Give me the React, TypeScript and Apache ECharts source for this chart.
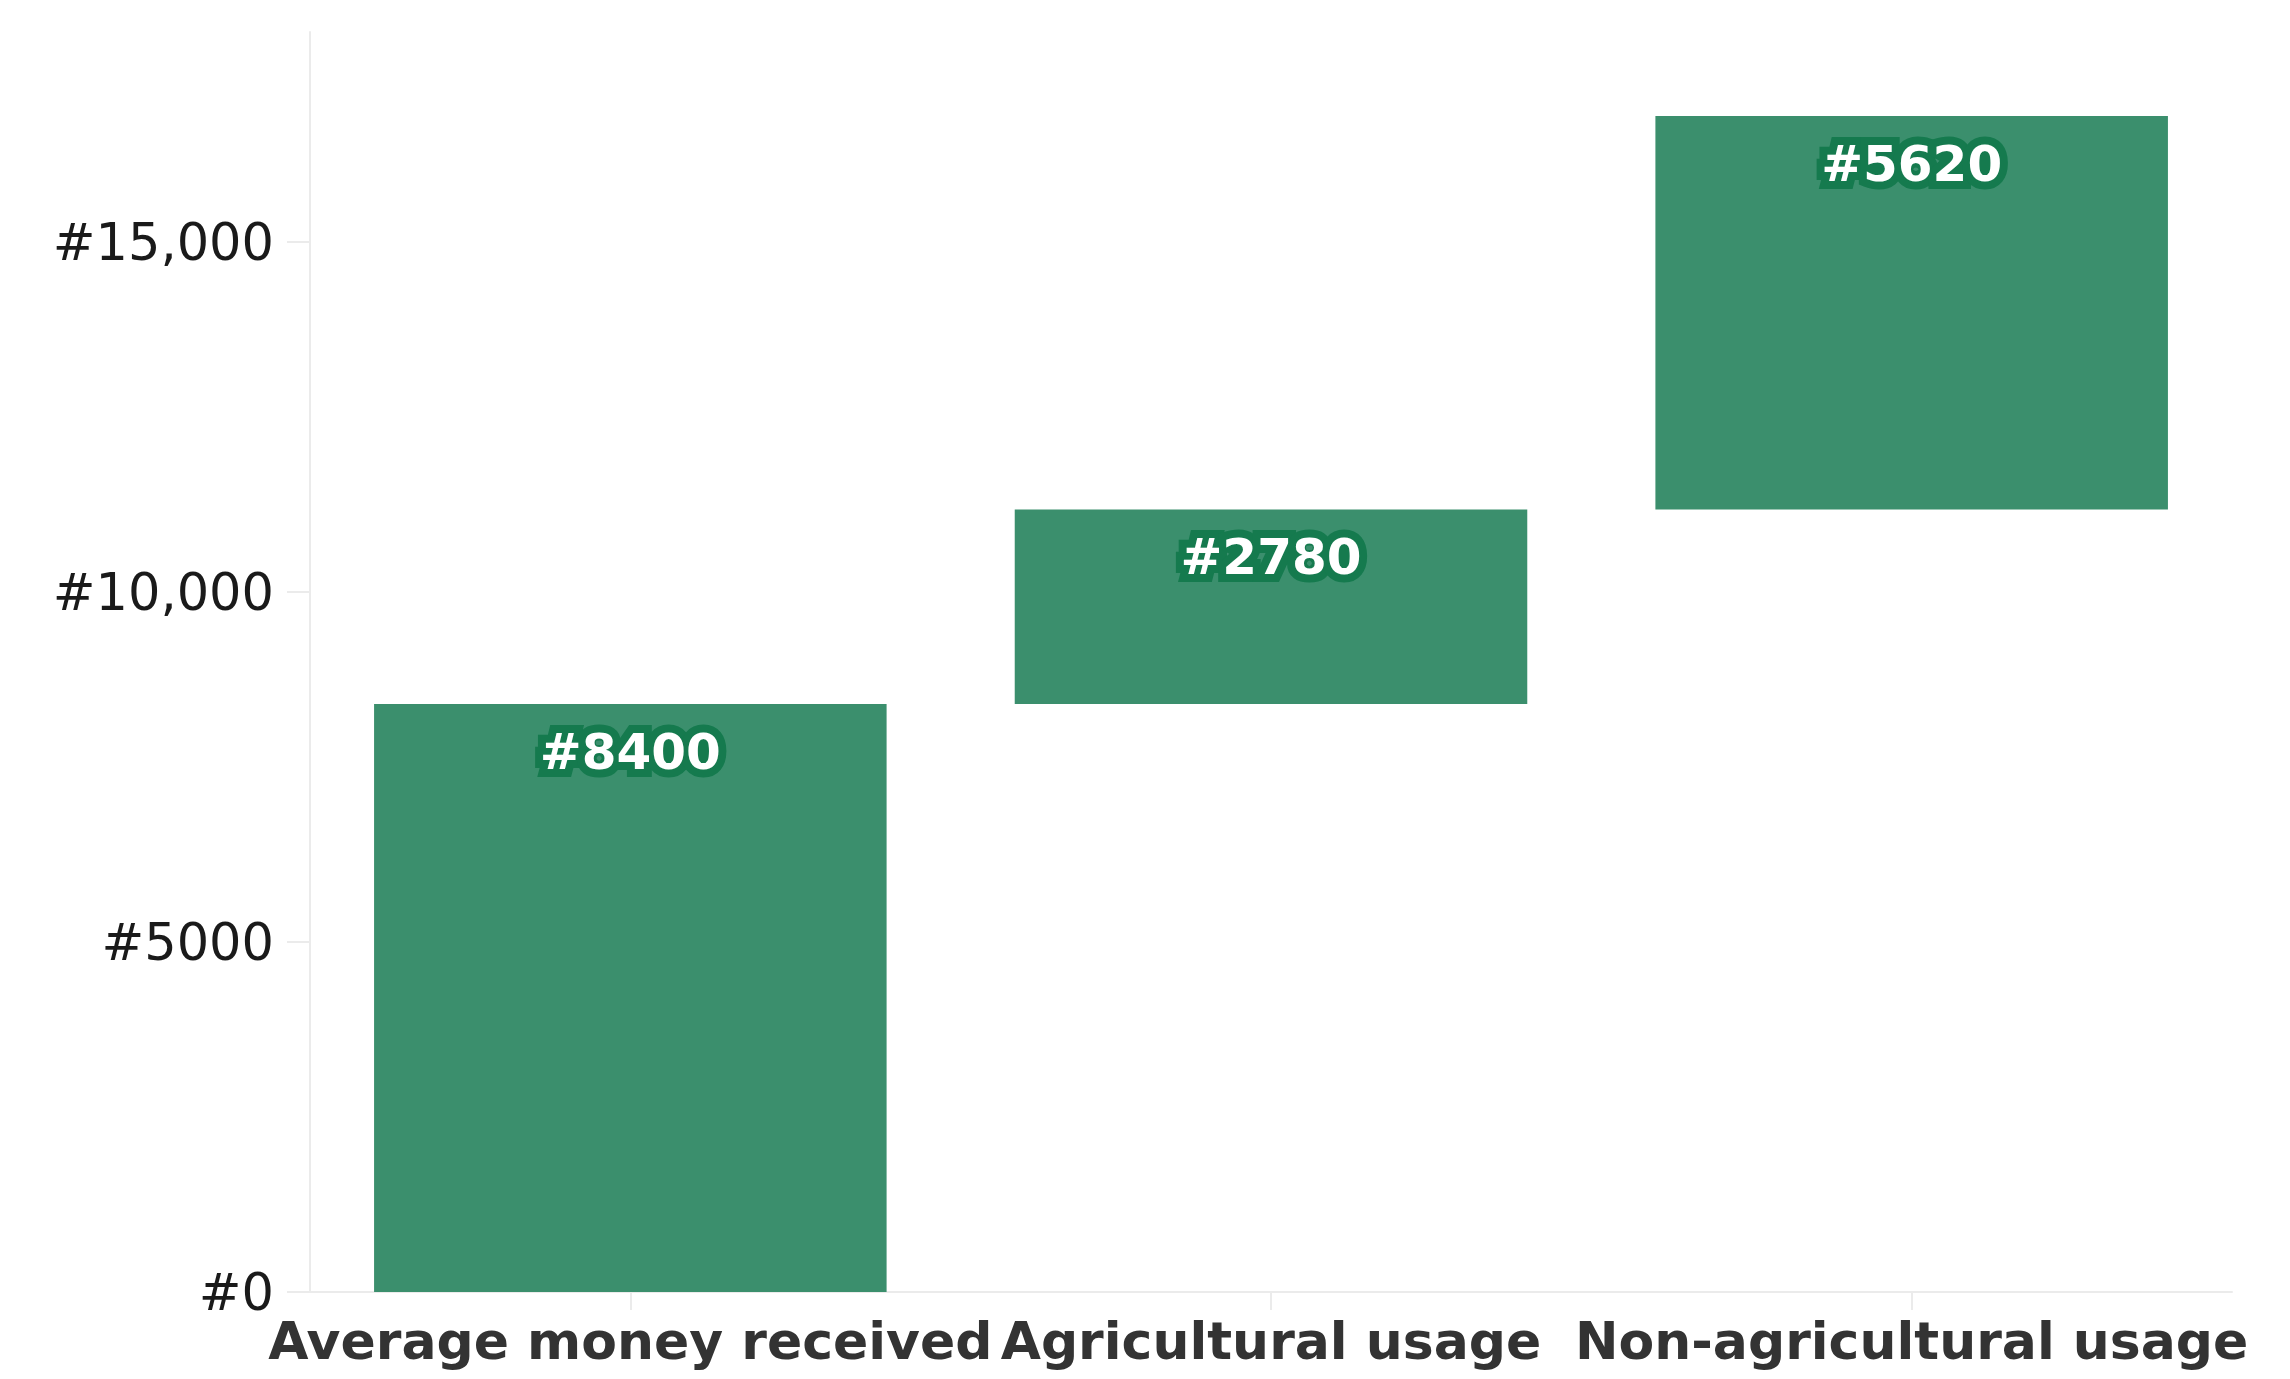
import React, { useEffect, useRef } from "react";
import * as echarts from "echarts";

const categories = ["Average money received", "Agricultural usage", "Non-agricultural usage"];
const amounts = [8400, 2780, 5620];
const yTicks = [0, 5000, 10000, 15000];
const yMax = 18000;

function fmt(v: number): string {
  return v >= 10000 ? "#" + v.toLocaleString("en-US") : "#" + String(v);
}

export default function App() {
  const ref = useRef<HTMLDivElement>(null);
  useEffect(() => {
    if (!ref.current) return;
    const chart = echarts.init(ref.current, undefined, { renderer: "svg" });
    const bases: number[] = [];
    let acc = 0;
    amounts.forEach((a) => {
      bases.push(acc);
      acc += a;
    });
    chart.setOption({
      animation: false,
      backgroundColor: "#ffffff",
      grid: { left: 310, right: 58, top: 32, bottom: 87, containLabel: false },
      xAxis: {
        type: "category",
        data: categories,
        axisLine: { show: true, lineStyle: { color: "#ebebeb", width: 2 } },
        axisTick: { show: true, alignWithLabel: true, length: 18, lineStyle: { color: "#ebebeb", width: 2 } },
        axisLabel: {
          interval: 0,
          margin: 23,
          fontFamily: "DejaVu Sans",
          fontWeight: "bold",
          fontSize: 52,
          color: "#333333",
        },
        splitLine: { show: false },
      },
      yAxis: {
        type: "value",
        min: 0,
        max: yMax,
        interval: 5000,
        axisLine: { show: true, lineStyle: { color: "#ebebeb", width: 2 } },
        axisTick: { show: true, length: 23, customValues: yTicks, lineStyle: { color: "#ebebeb", width: 2 } },
        axisLabel: {
          customValues: yTicks,
          margin: 36,
          fontFamily: "DejaVu Sans",
          fontSize: 51,
          color: "#1a1a1a",
          formatter: (v: number) => fmt(v),
        },
        splitLine: { show: false },
      },
      series: [
        {
          type: "bar",
          stack: "w",
          data: bases,
          itemStyle: { color: "transparent" },
          silent: true,
          barCategoryGap: "20%",
        },
        {
          type: "bar",
          stack: "w",
          data: amounts,
          barCategoryGap: "20%",
          itemStyle: { color: "#3b8f6d" },
          label: {
            show: true,
            position: "insideTop",
            distance: 23,
            formatter: (p: any) => "#" + p.value,
            fontFamily: "DejaVu Sans",
            fontWeight: "bold",
            fontSize: 50,
            color: "#ffffff",
            textBorderColor: "#157a4e",
            textBorderWidth: 16,
          },
        },
      ],
    });
    return () => chart.dispose();
  }, []);
  return (
    <div
      ref={ref}
      style={{ position: "fixed", left: 0, top: 0, width: 2290, height: 1379, background: "#fff" }}
    />
  );
}
